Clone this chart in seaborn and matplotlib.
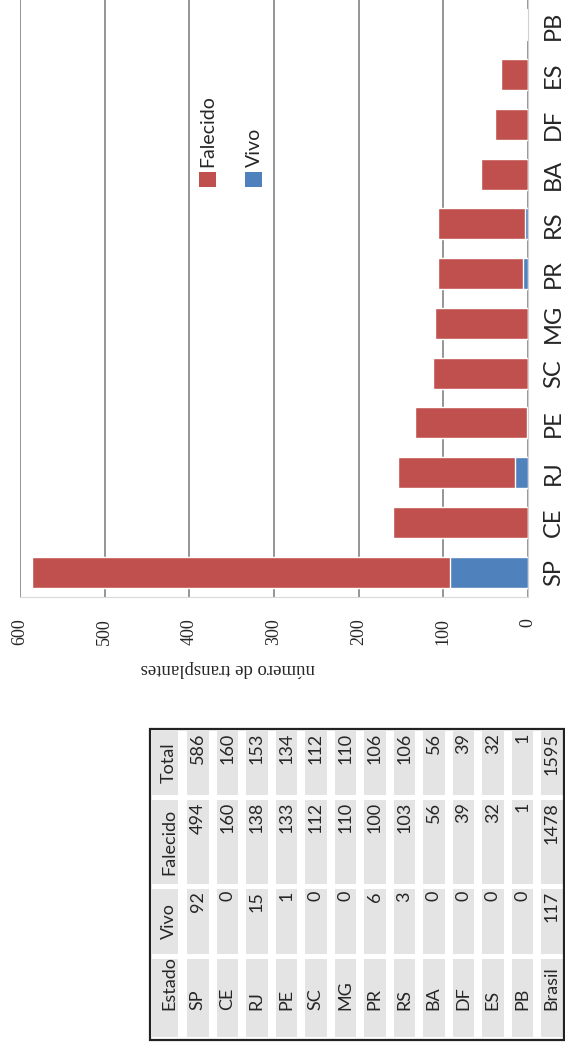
# Transplantes por estado - grafico de barras (pagina girada 90 graus)

import pandas as pd
import matplotlib
matplotlib.use("Agg")
import matplotlib.pyplot as plt
from matplotlib.patches import Rectangle
import seaborn as sns

# ==========================================
# Dados
# ==========================================

estados = ["SP", "CE", "RJ", "PE", "SC", "MG", "PR", "RS", "BA", "DF", "ES", "PB"]
vivo = [92, 0, 15, 1, 0, 0, 6, 3, 0, 0, 0, 0]
falecido = [494, 160, 138, 133, 112, 110, 100, 103, 56, 39, 32, 1]
total = [v + f for v, f in zip(vivo, falecido)]

tabela_cols = ["Estado", "Vivo", "Falecido", "Total"]

df = pd.DataFrame({"Estado": estados, "Vivo": vivo,
                   "Falecido": falecido, "Total": total})

RED = "#C0504D"
BLUE = "#4F81BD"
W, H = 565, 1047

sns.set_style("white")
plt.rcParams["font.family"] = ["Lato", "DejaVu Sans"]

fig = plt.figure(figsize=(W / 100, H / 100), dpi=100)

# camada em coordenadas de pixel para tabela / legenda
ax_t = fig.add_axes([0, 0, 1, 1])
ax_t.set_xlim(0, W)
ax_t.set_ylim(H, 0)
ax_t.axis("off")
ax_t.patch.set_visible(False)

# ==========================================
# Grafico
# ==========================================

ax = fig.add_axes([20 / W, 1 - 597 / H, 508 / W, 597 / H])
ordem = estados[::-1]

sns.barplot(data=df, x="Total", y="Estado", order=ordem, orient="h",
            color=RED, saturation=1, width=0.62, ax=ax)
sns.barplot(data=df, x="Vivo", y="Estado", order=ordem, orient="h",
            color=BLUE, saturation=1, width=0.62, ax=ax)

ax.set_xlim(600, 0)
ax.set_xticks(range(0, 700, 100))
ax.set_xticklabels([str(v) for v in range(0, 700, 100)], rotation=90,
                   fontfamily="Liberation Serif", fontsize=13)
ax.tick_params(axis="x", length=0, pad=15)

ax.yaxis.tick_right()
ax.tick_params(axis="y", length=0, pad=11, labelsize=17)
for lab in ax.get_yticklabels():
    lab.set_rotation(90)
    lab.set_va("center")

ax.set_xlabel("")
ax.set_ylabel("")
ax.xaxis.grid(True, color="#8c8c8c", lw=1.3)
ax.set_axisbelow(True)
for s in ["top", "left"]:
    ax.spines[s].set_visible(False)
ax.spines["right"].set_color("#d0d0d0")
ax.spines["bottom"].set_color("#d9d9d9")
ax.patch.set_visible(False)

fig.text(228 / W, 1 - 669 / H, "número de transplantes", rotation=180,
         ha="center", va="center", fontfamily="Liberation Serif", fontsize=13.5)

# legenda
for xc, cor, nome in [(208, RED, "Falecido"), (254, BLUE, "Vivo")]:
    ax_t.add_patch(Rectangle((xc - 9, 172), 17, 15, color=cor, lw=0))
    ax_t.text(xc, 167, nome, rotation=90, ha="center", va="bottom", fontsize=14)

# ==========================================
# Tabela
# ==========================================

linhas = estados + ["Brasil"]
t_vivo = vivo + [sum(vivo)]
t_fal = falecido + [sum(falecido)]
t_tot = total + [sum(total)]

faixas = {"Total": (731, 795), "Falecido": (800, 884),
          "Vivo": (889, 954), "Estado": (959, 1037)}
CINZA = "#e4e4e4"
fs = 13

ax_t.add_patch(Rectangle((150, 729), 414, 311, fill=False,
                         edgecolor="#222222", lw=1.6, zorder=3))

# coluna de cabecalho
for c in tabela_cols:
    y0, y1 = faixas[c]
    ax_t.add_patch(Rectangle((152, y0), 26, y1 - y0, color=CINZA, lw=0))
    if c == "Estado":
        ax_t.text(169, 1010, c, rotation=90, ha="center", va="bottom", fontsize=fs)
    else:
        ax_t.text(169, (y0 + y1) / 2, c, rotation=90, ha="center",
                  va="center", fontsize=fs)

for j, nome in enumerate(linhas):
    x0 = 187 + 29.5 * j
    xc = x0 + 10.75
    for c in tabela_cols:
        y0, y1 = faixas[c]
        ax_t.add_patch(Rectangle((x0, y0), 21.5, y1 - y0, color=CINZA, lw=0))
    ax_t.text(xc, 1010, nome, rotation=90, ha="center", va="bottom", fontsize=fs)
    for c, vals in [("Vivo", t_vivo), ("Falecido", t_fal), ("Total", t_tot)]:
        y0, y1 = faixas[c]
        ax_t.text(xc, y0 + 2, str(vals[j]), rotation=90, ha="center",
                  va="top", fontsize=fs)

fig.savefig("out.png", dpi=100)
